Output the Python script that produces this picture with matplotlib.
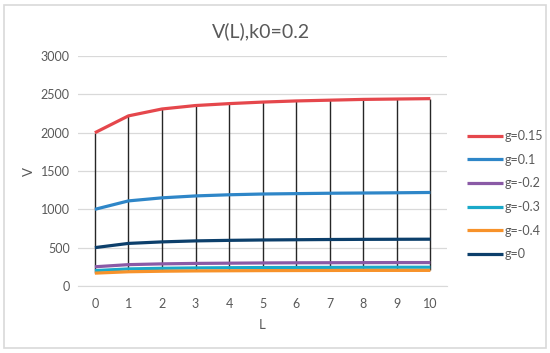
import matplotlib.pyplot as plt
from matplotlib.patches import Rectangle

# data
L = [0, 1, 2, 3, 4, 5, 6, 7, 8, 9, 10]
labels = ['g=0.15', 'g=0.1', 'g=-0.2', 'g=-0.3', 'g=-0.4', 'g=0']
v_015 = [2000, 2220, 2310, 2355, 2380, 2400, 2415, 2425, 2435, 2440, 2445]
v_01 = [1000, 1110, 1150, 1175, 1190, 1200, 1205, 1210, 1213, 1216, 1220]
v_m02 = [250, 278, 288, 294, 297, 300, 302, 303, 304, 305, 305]
v_m03 = [200, 222, 230, 235, 238, 240, 241, 242, 243, 244, 244]
v_m04 = [167, 185, 192, 196, 198, 200, 201, 202, 203, 203, 203]
v_0 = [500, 555, 575, 588, 595, 600, 603, 606, 608, 609, 610]
series = [v_015, v_01, v_m02, v_m03, v_m04, v_0]
colors = ['#e5474c', '#2e86c8', '#8a5aa6', '#1aa9c9', '#f7922a', '#0c3f6b']

plt.rcParams['font.family'] = ['Lato', 'DejaVu Sans']
txt = '#595959'

fig = plt.figure(figsize=(5.5, 3.53), dpi=100)
fig.patches.append(Rectangle((4 / 550, 5 / 353), 542 / 550, 343 / 353,
                             transform=fig.transFigure, fill=False,
                             edgecolor='#d9d9d9', linewidth=1.2))
ax = fig.add_axes([0.142, 0.19, 0.671, 0.651])

# high-low lines
hi = [max(s[i] for s in series) for i in range(len(L))]
lo = [min(s[i] for s in series) for i in range(len(L))]
ax.vlines(L, lo, hi, color='#262626', linewidth=1.0, zorder=2)

for s, c, lab in zip(series, colors, labels):
    ax.plot(L, s, color=c, linewidth=2.3, label=lab, zorder=3,
            solid_capstyle='butt')

ax.set_xlim(-0.5, 10.5)
ax.set_ylim(0, 3000)
ax.set_xticks(L)
ax.set_yticks(range(0, 3001, 500))
ax.grid(axis='y', color='#d9d9d9', linewidth=0.9)
ax.set_axisbelow(True)
for sp in ['left', 'right', 'top']:
    ax.spines[sp].set_visible(False)
ax.spines['bottom'].set_color('#d9d9d9')
ax.tick_params(length=0, labelsize=9, colors=txt, pad=6)
ax.tick_params(axis='x', pad=9)
ax.set_xlabel('L', color=txt, fontsize=9.5, labelpad=6)
ax.set_ylabel('V', color=txt, fontsize=9.5, labelpad=4)

fig.text(0.475, 0.912, 'V(L),k0=0.2', ha='center', va='center',
         fontsize=14, color=txt)

leg = ax.legend(loc='center left', bbox_to_anchor=(1.04, 0.395), frameon=False,
                fontsize=9, handlelength=2.9, handletextpad=0.1,
                labelspacing=0.93, borderaxespad=0)
for t in leg.get_texts():
    t.set_color(txt)

fig.savefig('out.png', dpi=100)
